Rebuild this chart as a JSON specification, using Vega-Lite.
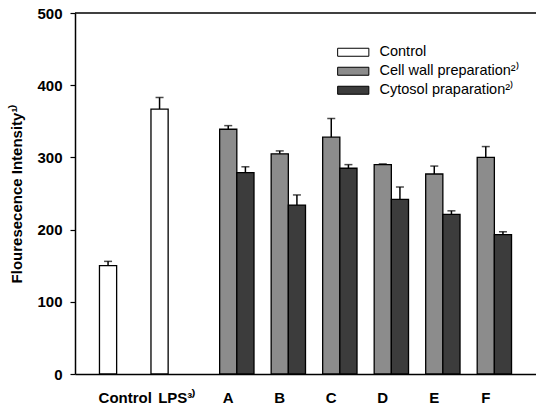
{
  "$schema": "https://vega.github.io/schema/vega-lite/v6.json",
  "width": 461,
  "height": 361,
  "autosize": {"type": "none"},
  "padding": {"left": 75, "top": 13, "right": 0, "bottom": 40},
  "config": {"font": "Liberation Sans", "view": {"stroke": null}},
  "data": {"values": [
    {"group": "Control", "series": "Control", "value": 150, "upper": 156},
    {"group": "LPS³⁾", "series": "Control", "value": 367, "upper": 383},
    {"group": "A", "series": "Cell wall preparation²⁾", "value": 339, "upper": 344},
    {"group": "A", "series": "Cytosol praparation²⁾", "value": 279, "upper": 287},
    {"group": "B", "series": "Cell wall preparation²⁾", "value": 305, "upper": 309},
    {"group": "B", "series": "Cytosol praparation²⁾", "value": 234, "upper": 248},
    {"group": "C", "series": "Cell wall preparation²⁾", "value": 328, "upper": 354},
    {"group": "C", "series": "Cytosol praparation²⁾", "value": 285, "upper": 290},
    {"group": "D", "series": "Cell wall preparation²⁾", "value": 290, "upper": 291},
    {"group": "D", "series": "Cytosol praparation²⁾", "value": 242, "upper": 259},
    {"group": "E", "series": "Cell wall preparation²⁾", "value": 277, "upper": 288},
    {"group": "E", "series": "Cytosol praparation²⁾", "value": 221, "upper": 226},
    {"group": "F", "series": "Cell wall preparation²⁾", "value": 300, "upper": 315},
    {"group": "F", "series": "Cytosol praparation²⁾", "value": 193, "upper": 197}
  ]},
  "layer": [
    {
      "mark": {"type": "bar", "stroke": "black", "strokeWidth": 1.3},
      "encoding": {
        "x": {
          "field": "group", "type": "nominal",
          "scale": {"domain": ["Control", "LPS³⁾", "A", "B", "C", "D", "E", "F"], "paddingInner": 0, "paddingOuter": 0.475},
          "axis": {"title": null, "labelAngle": 0, "ticks": false, "domainColor": "black", "domainWidth": 1.5, "labelFontWeight": "bold", "labelFontSize": 15, "labelColor": "black", "labelPadding": 16}
        },
        "xOffset": {
          "field": "series", "type": "nominal",
          "scale": {"domain": ["Control", "Cell wall preparation²⁾", "Cytosol praparation²⁾"], "paddingInner": 0, "paddingOuter": 0}
        },
        "y": {
          "field": "value", "type": "quantitative",
          "scale": {"domain": [0, 500], "nice": false},
          "axis": {"title": "Flouresecence Intensity¹⁾", "titleFontSize": 15, "titleFontWeight": "bold", "titleColor": "black", "titlePadding": 12, "values": [0, 100, 200, 300, 400, 500], "grid": false, "tickSize": 5, "tickColor": "black", "tickWidth": 1.2, "domainColor": "black", "domainWidth": 1.5, "labelFontWeight": "bold", "labelFontSize": 15, "labelColor": "black", "labelPadding": 8}
        },
        "fill": {
          "field": "series", "type": "nominal",
          "scale": {"domain": ["Control", "Cell wall preparation²⁾", "Cytosol praparation²⁾"], "range": ["white", "#8c8c8c", "#3c3c3c"]},
          "legend": {
            "title": null, "orient": "none", "legendX": 271, "legendY": 32, "padding": 0,
            "symbolType": "M-3.9,-1H3.9V1H-3.9Z", "symbolSize": 64, "symbolStrokeColor": "black", "symbolStrokeWidth": 1, "symbolOpacity": 1,
            "labelFontSize": 14.5, "labelColor": "black", "labelOffset": 19, "rowPadding": 4, "labelLimit": 300
          }
        }
      }
    },
    {
      "mark": {"type": "rule", "color": "black", "strokeWidth": 1.5},
      "encoding": {
        "x": {"field": "group", "type": "nominal"},
        "xOffset": {"field": "series", "type": "nominal"},
        "y": {"field": "value", "type": "quantitative"},
        "y2": {"field": "upper"}
      }
    },
    {
      "mark": {"type": "tick", "color": "black", "thickness": 1.5, "size": 8, "orient": "horizontal"},
      "encoding": {
        "x": {"field": "group", "type": "nominal"},
        "xOffset": {"field": "series", "type": "nominal"},
        "y": {"field": "upper", "type": "quantitative"}
      }
    },
    {
      "data": {"values": [{"top": 500}]},
      "mark": {"type": "rule", "color": "black", "strokeWidth": 1.5},
      "encoding": {"y": {"field": "top", "type": "quantitative"}}
    }
  ]
}
